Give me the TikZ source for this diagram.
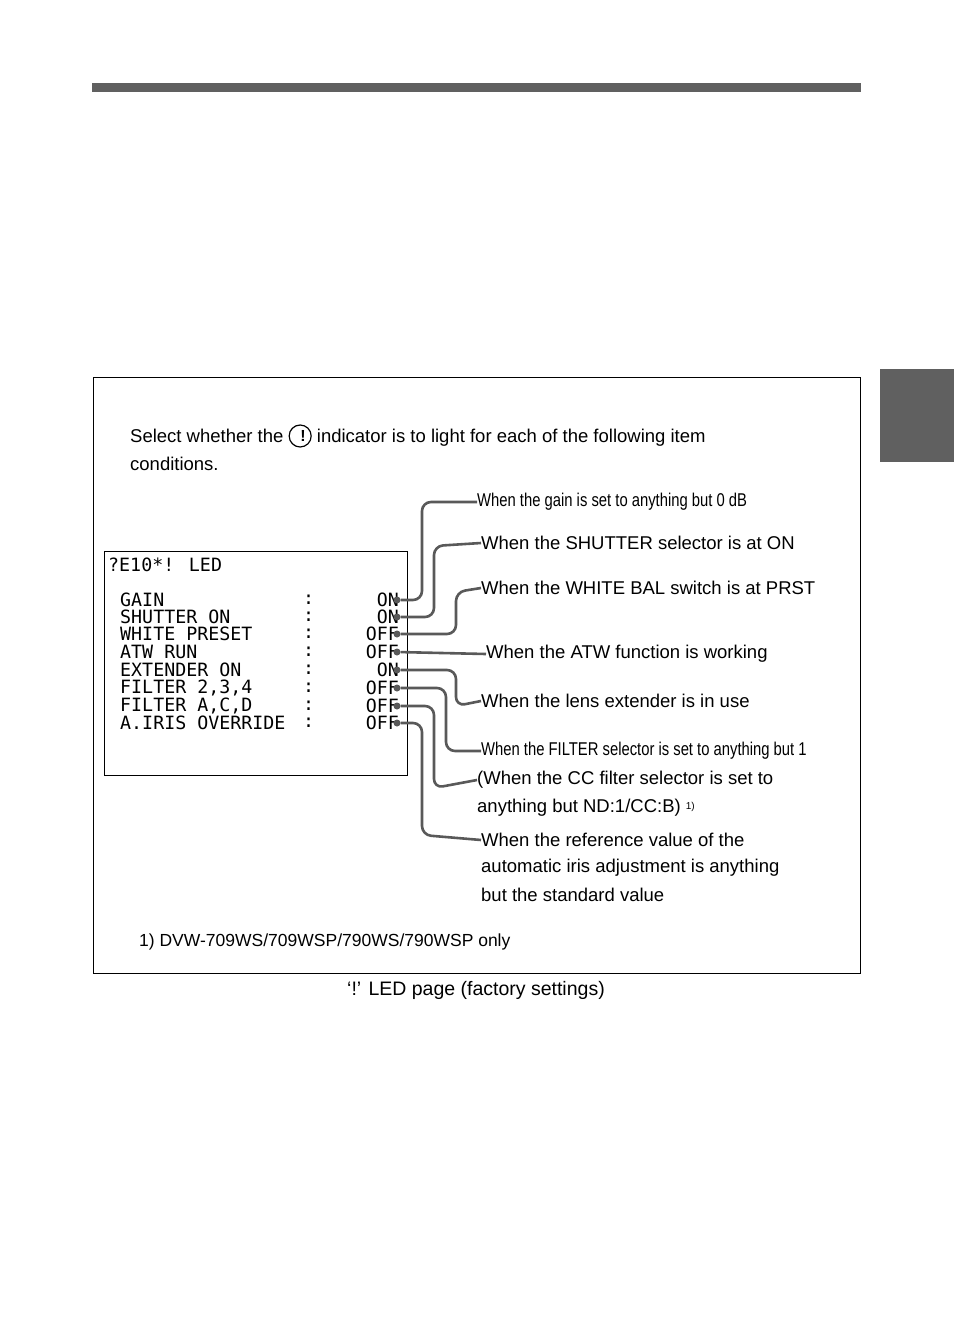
\documentclass[tikz,border=0pt]{standalone}
\usepackage{fontspec}
\setmainfont{Liberation Sans}
\newfontfamily\monof{DejaVu Sans Mono}
\begin{document}
\begin{tikzpicture}[x=1pt,y=-1pt,
  txt/.style={anchor=west,inner sep=0pt,font=\fontsize{18.5}{28}\selectfont},
  ctxt/.style={anchor=west,inner sep=0pt,font=\fontsize{18.5}{28}\selectfont},
  mono/.style={anchor=west,inner sep=0pt,font=\monof\fontsize{18.3}{18}\selectfont},
  monor/.style={anchor=east,inner sep=0pt,font=\monof\fontsize{18.3}{18}\selectfont},
  conn/.style={draw=gray!70!black,line width=2.6pt,rounded corners=9pt},
  dotc/.style={circle,fill=gray!70!black,inner sep=0pt,minimum size=7pt}]
\useasboundingbox (0,0) rectangle (954,1324);
\fill[gray!75!black] (92,83) rectangle (861,92);
\fill[gray!75!black] (880,369) rectangle (954,462);
\node[draw,line width=1pt,minimum width=767pt,minimum height=596pt,anchor=north west,inner sep=0pt] (frame) at (93,377) {};
\node[txt] (intro) at (130,436) {Select whether the \tikz[baseline=-0.7ex]{\draw[line width=1.2pt](0,0) circle (11pt);\node[font=\bfseries\fontsize{16}{16}\selectfont]{!};} indicator is to light for each of the following item};
\node[txt] (intro2) at (130,464) {conditions.};
\node[draw,line width=1pt,minimum width=303pt,minimum height=224pt,anchor=north west,inner sep=0pt] (menu) at (104,551) {};
\node[mono] (title) at (108,565) {?E10*! LED};
\foreach \n/\l/\v/\y in {a/GAIN/ON/600,b/SHUTTER ON/ON/617,c/WHITE PRESET/OFF/634,d/ATW RUN/OFF/652,e/EXTENDER ON/ON/670,f/{FILTER 2,3,4}/OFF/688,g/{FILTER A,C,D}/OFF/706,h/A.IRIS OVERRIDE/OFF/723}{
  \node[mono] (l\n) at (120,\y) {\l};
  \node[mono] (c\n) at (303,\y) {:};
  \node[monor] (v\n) at (399,\y) {\v};
  \node[dotc] (d\n) at (397,\y) {};
}
\node[txt,font=\fontsize{18.5}{28}\selectfont] (ta) at (477,502) {\scalebox{0.8}[1]{When the gain is set to anything but 0 dB}};
\node[txt] (tb) at (481,543) {When the SHUTTER selector is at ON};
\node[txt] (tc) at (481,588) {When the WHITE BAL switch is at PRST};
\node[txt] (td) at (486,654) {When the ATW function is working};
\node[txt] (te) at (481,701) {When the lens extender is in use};
\node[txt] (tf) at (481,751) {\scalebox{0.8}[1]{When the FILTER selector is set to anything but 1}};
\node[txt] (tg) at (477,780) {(When the CC filter selector is set to};
\node[txt] (tg2) at (477,808) {anything but ND:1/CC:B) {\fontsize{10}{10}\selectfont\raisebox{0.6ex}{1)}}};
\node[txt] (th) at (481,840) {When the reference value of the};
\node[txt] (th2) at (481,868) {automatic iris adjustment is anything};
\node[txt] (th3) at (481,895) {but the standard value};
\node[txt,font=\fontsize{17.5}{20}\selectfont] (fn) at (139,942) {1) DVW-709WS/709WSP/790WS/790WSP only};
\node[inner sep=0pt,font=\fontsize{19.5}{22}\selectfont] (cap) at (476,990) {‘!’ LED page (factory settings)};
\draw[conn] (da) -| (422,502) -- (ta.west);
\draw[conn] (db) -| (434,546) -- (tb.west);
\draw[conn] (dc) -| (456,592) -- (tc.west);
\draw[conn] (dd) -- (td.west);
\draw[conn] (de) -| (456,706) -- (te.west);
\draw[conn] (df) -| (446,751) -- (tf.west);
\draw[conn] (dg) -| (434,788) -- (tg.west);
\draw[conn] (dh) -| (422,835) -- (th.west);
\end{tikzpicture}
\end{document}
